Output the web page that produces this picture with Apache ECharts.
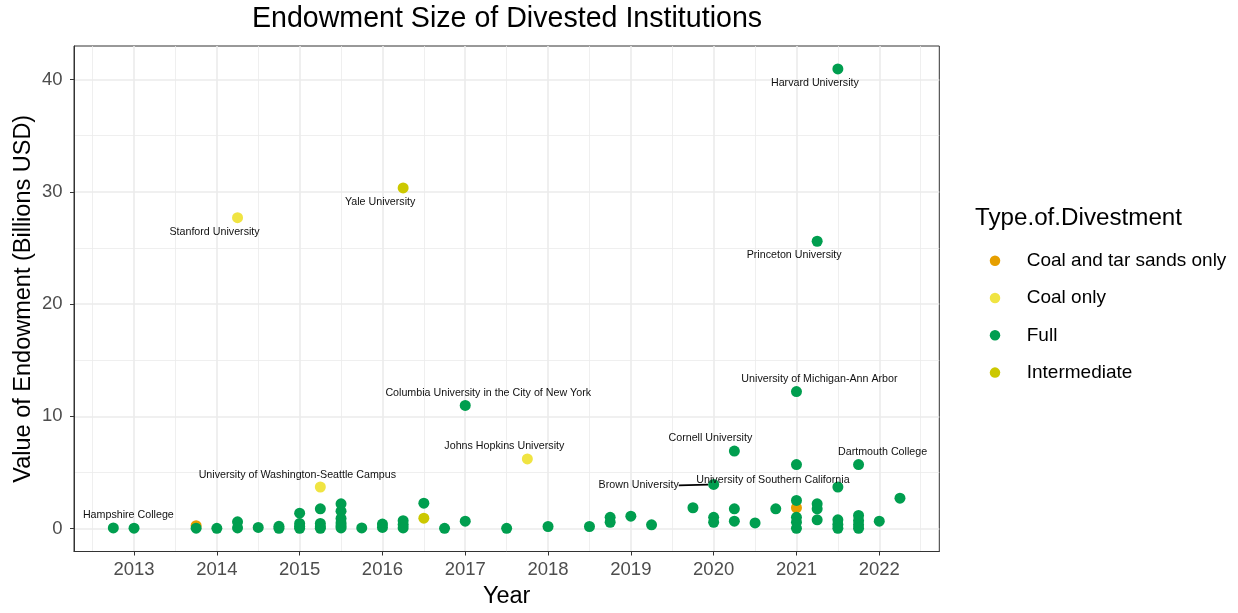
<!DOCTYPE html>
<html>
<head>
<meta charset="utf-8">
<script src="https://cdn.jsdelivr.net/npm/echarts@6/dist/echarts.min.js"></script>
<style>
html,body{margin:0;padding:0;background:#fff;}
#chart{width:1238px;height:613px;}
</style>
</head>
<body>
<div id="chart"></div>
<script>
// ---------- data ----------
const typeNames = ['Coal and tar sands only', 'Coal only', 'Full', 'Intermediate'];
const coalTarSands = [[2013.75, 0.25], [2021.0, 1.85]];
const coalOnly = [
  [2014.25, 27.7, 'Stanford University'],
  [2015.25, 3.7, 'University of Washington-Seattle Campus'],
  [2017.75, 6.2, 'Johns Hopkins University']
];
const intermediate = [
  [2016.25, 30.35, 'Yale University'],
  [2016.5, 0.92]
];
const full = [
  [2012.75, 0.05, 'Hampshire College'],
  [2013.0, 0.03],
  [2013.75, 0.03],
  [2014.0, 0.02],
  [2014.25, 0.6], [2014.25, 0.05],
  [2014.5, 0.1],
  [2014.75, 0.2], [2014.75, 0.02],
  [2015.0, 1.37], [2015.0, 0.45], [2015.0, 0.2], [2015.0, 0.02],
  [2015.25, 1.76], [2015.25, 0.45], [2015.25, 0.15], [2015.25, 0.02],
  [2015.5, 2.2], [2015.5, 1.55], [2015.5, 0.9], [2015.5, 0.5], [2015.5, 0.25], [2015.5, 0.05],
  [2015.75, 0.05],
  [2016.0, 0.4], [2016.0, 0.1],
  [2016.25, 0.7], [2016.25, 0.35], [2016.25, 0.05],
  [2016.5, 2.26],
  [2016.75, 0.02],
  [2017.0, 10.97, 'Columbia University in the City of New York'], [2017.0, 0.65],
  [2017.5, 0.02],
  [2018.0, 0.18],
  [2018.5, 0.18],
  [2018.75, 1.0], [2018.75, 0.56],
  [2019.0, 1.1],
  [2019.25, 0.33],
  [2019.75, 1.85],
  [2020.0, 3.93, 'Brown University'], [2020.0, 1.0], [2020.0, 0.56],
  [2020.25, 6.9, 'Cornell University'], [2020.25, 1.76], [2020.25, 0.65],
  [2020.5, 0.5],
  [2020.75, 1.76],
  [2021.0, 12.2, 'University of Michigan-Ann Arbor'], [2021.0, 5.7, 'University of Southern California'],
  [2021.0, 2.5], [2021.0, 1.0], [2021.0, 0.56], [2021.0, 0.02],
  [2021.25, 25.6, 'Princeton University'], [2021.25, 2.2], [2021.25, 1.76], [2021.25, 0.78],
  [2021.5, 40.95, 'Harvard University'], [2021.5, 3.7], [2021.5, 0.78], [2021.5, 0.36], [2021.5, 0.02],
  [2021.75, 5.7, 'Dartmouth College'], [2021.75, 1.16], [2021.75, 0.7], [2021.75, 0.33], [2021.75, 0.02],
  [2022.0, 0.65],
  [2022.25, 2.7]
];
const xTicks = [2013, 2014, 2015, 2016, 2017, 2018, 2019, 2020, 2021, 2022];
const xMinorTicks = [2012.5, 2013.5, 2014.5, 2015.5, 2016.5, 2017.5, 2018.5, 2019.5, 2020.5, 2021.5, 2022.5];
const yTicks = [0, 10, 20, 30, 40];
const yMinorTicks = [5, 15, 25, 35];

// ---------- styling / layout ----------
const typeColors = ['#E69F00', '#F0E442', '#009E4F', '#CCC800'];
const FONT = '"Liberation Sans", Arial, Helvetica, sans-serif';
const labelOffsets = {
  'Harvard University': [-23, 14],
  'Stanford University': [-23, 14],
  'Yale University': [-23, 14.5],
  'Princeton University': [-23, 14],
  'University of Michigan-Ann Arbor': [23, -13],
  'Columbia University in the City of New York': [23, -12.5],
  'Johns Hopkins University': [-23, -13],
  'Cornell University': [-24, -13.5],
  'Dartmouth College': [24, -12.5],
  'University of Southern California': [-23.5, 15],
  'Brown University': [-75, 1],
  'University of Washington-Seattle Campus': [-23, -12],
  'Hampshire College': [15, -13]
};
const withLine = {'Brown University': true};

const xMin = 2012.275, xMax = 2022.725;
const yMin = -2.0475, yMax = 42.9975;

function toItems(arr) {
  return arr.map(function (d) {
    const item = {value: [d[0], d[1]]};
    if (d[2]) {
      item.name = d[2];
      item.label = {show: true, formatter: d[2]};
      if (withLine[d[2]]) {
        item.labelLine = {show: true, length2: 0, smooth: false, lineStyle: {color: '#000', width: 1.6}};
      }
    }
    return item;
  });
}

const seriesData = [coalTarSands, coalOnly, full, intermediate];
const series = seriesData.map(function (arr, i) {
  return {
    name: typeNames[i],
    type: 'scatter',
    xAxisIndex: 0,
    yAxisIndex: 0,
    symbol: 'circle',
    symbolSize: 11,
    itemStyle: {color: typeColors[i], opacity: 1},
    label: {
      show: false,
      position: 'inside',
      color: '#111',
      fontFamily: FONT,
      fontSize: 10.7,
      textBorderWidth: 0
    },
    labelLayout: function (p) {
      const o = labelOffsets[p.text];
      return o ? {dx: o[0], dy: o[1]} : {};
    },
    emphasis: {disabled: true},
    animation: false,
    data: toItems(arr)
  };
});

const chart = echarts.init(document.getElementById('chart'), null, {renderer: 'canvas'});
const gridLine = '#EBEBEB';
const option = {
  backgroundColor: '#fff',
  animation: false,
  textStyle: {fontFamily: FONT},
  grid: {
    left: 74, right: 298.7, top: 46, bottom: 61.5,
    containLabel: false,
    outerBoundsMode: 'none',
    show: true, borderColor: '#333', borderWidth: 1, backgroundColor: '#fff'
  },
  graphic: [
    {type: 'text', x: 507, y: 19, z: 10,
     style: {text: 'Endowment Size of Divested Institutions', fontFamily: FONT, fontSize: 28.6,
             fill: '#000', align: 'center', verticalAlign: 'middle'}},
    {type: 'text', x: 975, y: 218, z: 10,
     style: {text: 'Type.of.Divestment', fontFamily: FONT, fontSize: 24.2,
             fill: '#000', align: 'left', verticalAlign: 'middle'}}
  ],
  legend: {
    orient: 'vertical',
    left: 989.75,
    top: 250.7,
    padding: 0,
    itemWidth: 10.5,
    itemHeight: 10.5,
    itemGap: 17.3,
    icon: 'circle',
    data: typeNames,
    textStyle: {fontFamily: FONT, fontSize: 19, color: '#000', lineHeight: 20, padding: [0, 0, 0, 21.5]},
    selectedMode: false
  },
  xAxis: [
    {
      type: 'value', gridIndex: 0, position: 'bottom',
      min: xMin, max: xMax,
      name: 'Year', nameLocation: 'middle', nameGap: 33, nameMoveOverlap: false,
      nameTextStyle: {fontFamily: FONT, fontSize: 23.5, color: '#000'},
      axisLine: {show: true, onZero: false, lineStyle: {color: '#333', width: 1}},
      axisTick: {show: true, length: 4, customValues: xTicks, lineStyle: {color: '#333', width: 1}},
      axisLabel: {show: true, customValues: xTicks, margin: 9, fontFamily: FONT, fontSize: 18.5, color: '#4D4D4D',
                  formatter: function (v) { return String(Math.round(v)); }},
      splitLine: {show: true, lineStyle: {color: gridLine, width: 1.6}},
      z: 2
    },
    {
      type: 'value', gridIndex: 0, position: 'bottom',
      min: xMin, max: xMax,
      axisLine: {show: false},
      axisTick: {show: false, customValues: xMinorTicks},
      axisLabel: {show: false, customValues: xMinorTicks},
      splitLine: {show: true, lineStyle: {color: gridLine, width: 0.8}},
      z: 1
    }
  ],
  yAxis: [
    {
      type: 'value', gridIndex: 0, position: 'left',
      min: yMin, max: yMax,
      name: 'Value of Endowment (Billions USD)', nameLocation: 'middle', nameGap: 38, nameMoveOverlap: false,
      nameTextStyle: {fontFamily: FONT, fontSize: 23.5, color: '#000'},
      axisLine: {show: true, onZero: false, lineStyle: {color: '#333', width: 1}},
      axisTick: {show: true, length: 4, customValues: yTicks, lineStyle: {color: '#333', width: 1}},
      axisLabel: {show: true, customValues: yTicks, margin: 11.5, fontFamily: FONT, fontSize: 18.5, color: '#4D4D4D',
                  formatter: function (v) { return String(Math.round(v)); }},
      splitLine: {show: true, lineStyle: {color: gridLine, width: 1.6}},
      z: 2
    },
    {
      type: 'value', gridIndex: 0, position: 'left',
      min: yMin, max: yMax,
      axisLine: {show: false},
      axisTick: {show: false, customValues: yMinorTicks},
      axisLabel: {show: false, customValues: yMinorTicks},
      splitLine: {show: true, lineStyle: {color: gridLine, width: 0.8}},
      z: 1
    }
  ],
  series: series
};
chart.setOption(option);
</script>
</body>
</html>
